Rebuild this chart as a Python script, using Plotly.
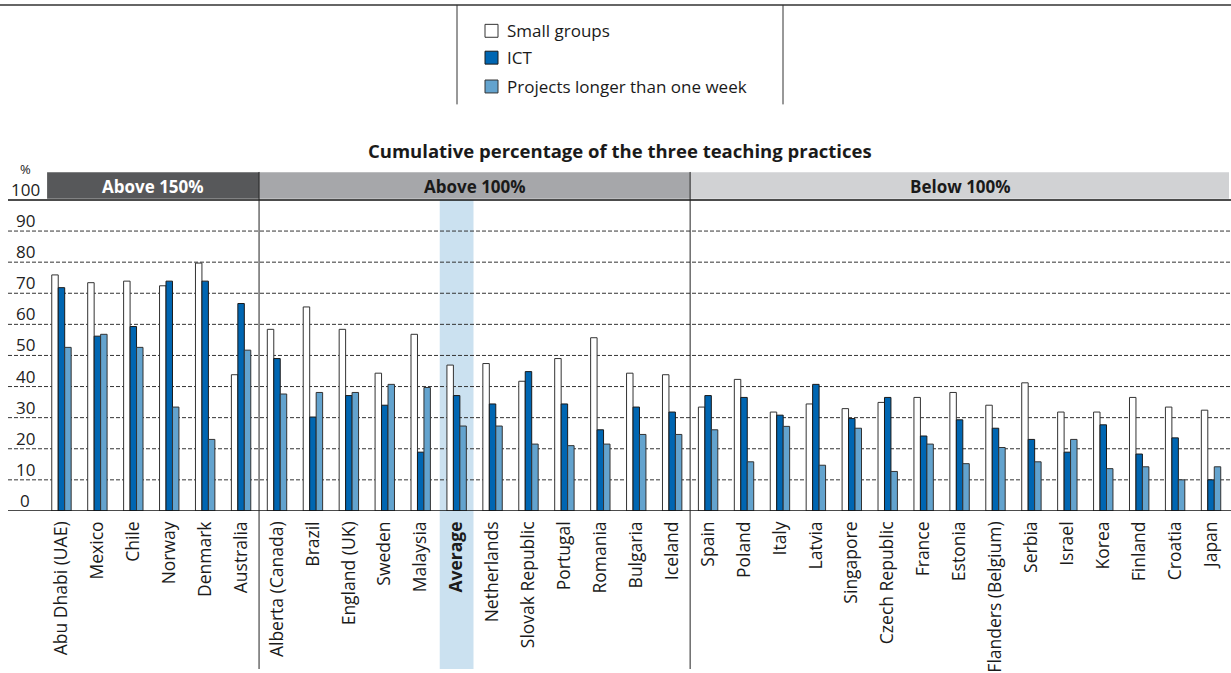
import plotly.graph_objects as go

W, H = 1231, 673

countries = [
    "Abu Dhabi (UAE)", "Mexico", "Chile", "Norway", "Denmark", "Australia",
    "Alberta (Canada)", "Brazil", "England (UK)", "Sweden", "Malaysia", "Average",
    "Netherlands", "Slovak Republic", "Portugal", "Romania", "Bulgaria", "Iceland",
    "Spain", "Poland", "Italy", "Latvia", "Singapore", "Czech Republic", "France",
    "Estonia", "Flanders (Belgium)", "Serbia", "Israel", "Korea", "Finland",
    "Croatia", "Japan",
]

small_groups = [
    75.9, 73.4, 73.9, 72.4, 79.7, 43.8,
    58.4, 65.6, 58.4, 44.3, 56.8, 46.9,
    47.4, 41.7, 49.0, 55.7, 44.3, 43.8,
    33.4, 42.3, 31.8, 34.4, 32.9, 34.9, 36.5,
    38.1, 34.0, 41.2, 31.8, 31.8, 36.5,
    33.4, 32.4,
]

ict = [
    71.8, 56.2, 59.3, 73.9, 73.9, 66.7,
    49.0, 30.2, 37.1, 34.0, 18.9, 37.1,
    34.4, 44.8, 34.4, 26.1, 33.4, 31.8,
    37.1, 36.5, 30.8, 40.7, 29.7, 36.5, 24.1,
    29.3, 26.6, 23.0, 18.9, 27.7, 18.3,
    23.5, 10.0,
]

projects = [
    52.6, 56.8, 52.6, 33.4, 23.0, 51.7,
    37.6, 38.1, 38.1, 40.7, 39.7, 27.3,
    27.3, 21.5, 21.0, 21.5, 24.6, 24.6,
    26.1, 15.8, 27.2, 14.7, 26.6, 12.7, 21.5,
    15.2, 20.4, 15.8, 23.0, 13.6, 14.2,
    10.0, 14.2,
]

# groups of countries by cumulative percentage
groups = [
    ("Above 150%", 0, 5, "#57585a", "white"),
    ("Above 100%", 6, 17, "#a6a7aa", "#1a1a1a"),
    ("Below 100%", 18, 32, "#d1d2d4", "#1a1a1a"),
]

y_ticks = [0, 10, 20, 30, 40, 50, 60, 70, 80, 90, 100]

series = [
    ("Small groups", small_groups, "white", "#333333"),
    ("ICT", ict, "#0066b2", "#1a1a1a"),
    ("Projects longer than one week", projects, "#63a3ce", "#333333"),
]

FONT = "Open Sans"
DARK = "#1a1a1a"


def px(x):
    return x / W


def py(y):
    return 1 - y / H


fig = go.Figure()
for name, vals, fill, edge in series:
    fig.add_trace(go.Bar(
        name=name, x=countries, y=vals,
        marker=dict(color=fill, line=dict(color=edge, width=1)),
        showlegend=False,
    ))

tick_text = ["<b>%s</b>" % c if c == "Average" else c for c in countries]
avg_idx = countries.index("Average")

shapes = []
annotations = []

# highlighted average column
shapes.append(dict(type="rect", layer="below", xref="x", yref="paper",
                   x0=avg_idx - 0.47, x1=avg_idx + 0.47, y0=0, y1=py(201),
                   fillcolor="#cbe1f0", line=dict(width=0)))

# dashed gridlines
for v in y_ticks[1:-1]:
    shapes.append(dict(type="line", layer="below", xref="paper", yref="y",
                       x0=px(8), x1=1, y0=v, y1=v,
                       line=dict(color="#333333", width=1, dash="4px,2px")))

# solid lines at 0 and 100
for v in (0, 100):
    shapes.append(dict(type="line", xref="paper", yref="y",
                       x0=px(8), x1=1, y0=v, y1=v,
                       line=dict(color="#111111", width=1.5)))

# group header bands
for label, i0, i1, fill, tcol in groups:
    x0 = i0 - 0.4 if i0 == 0 else i0 - 0.5
    x1 = i1 + 0.56 if i1 == len(countries) - 1 else i1 + 0.5
    shapes.append(dict(type="rect", xref="x", yref="y", x0=x0, x1=x1,
                       y0=100.4, y1=108.9, fillcolor=fill, line=dict(width=0)))
    annotations.append(dict(xref="x", yref="y", x=(x0 + x1) / 2, y=104.2,
                            text="<b>%s</b>" % label, showarrow=False,
                            font=dict(family=FONT, size=17, color=tcol)))

# separators between groups
for label, i0, i1, fill, tcol in groups[1:]:
    shapes.append(dict(type="line", xref="x", yref="paper",
                       x0=i0 - 0.5, x1=i0 - 0.5, y0=0, y1=py(173),
                       line=dict(color="#222222", width=1)))

# y-axis labels sitting above each line
for v in y_ticks:
    annotations.append(dict(xref="paper", yref="y", x=px(25), y=v,
                            xanchor="center", yanchor="bottom", yshift=-3,
                            text=str(v), showarrow=False,
                            font=dict(family=FONT, size=17, color="#222222")))
annotations.append(dict(xref="paper", yref="paper", x=px(25), y=py(170),
                        xanchor="center", yanchor="middle", text="%",
                        showarrow=False,
                        font=dict(family=FONT, size=13, color="#222222")))

# title
annotations.append(dict(xref="paper", yref="paper", x=px(620), y=py(151),
                        xanchor="center", yanchor="middle",
                        text="<b>Cumulative percentage of the three teaching practices</b>",
                        showarrow=False,
                        font=dict(family=FONT, size=18.5, color=DARK)))

# legend frame
shapes.append(dict(type="line", xref="paper", yref="paper", x0=0, x1=1,
                   y0=py(5), y1=py(5), line=dict(color="#333333", width=1.5)))
for xv in (457, 783):
    shapes.append(dict(type="line", xref="paper", yref="paper", x0=px(xv), x1=px(xv),
                       y0=py(5), y1=py(105), line=dict(color="#333333", width=1)))

legend_rows = [31, 58, 87]
for (name, vals, fill, edge), yc in zip(series, legend_rows):
    shapes.append(dict(type="rect", xref="paper", yref="paper",
                       x0=px(485), x1=px(498), y0=py(yc + 6.5), y1=py(yc - 6.5),
                       fillcolor=fill, line=dict(color=edge, width=1)))
    annotations.append(dict(xref="paper", yref="paper", x=px(505), y=py(yc),
                            xanchor="left", yanchor="middle", text=name,
                            showarrow=False,
                            font=dict(family=FONT, size=17, color=DARK)))

fig.update_layout(
    width=W, height=H,
    margin=dict(l=0, r=0, t=0, b=0),
    paper_bgcolor="white", plot_bgcolor="rgba(0,0,0,0)",
    barmode="group", bargap=0.46, bargroupgap=0,
    shapes=shapes, annotations=annotations,
    font=dict(family=FONT, color=DARK),
    xaxis=dict(domain=[px(43.5), px(1229)], range=[-0.5, len(countries) - 0.5],
               tickmode="array", tickvals=countries, ticktext=tick_text,
               tickangle=-90, tickfont=dict(family=FONT, size=17.5, color=DARK),
               ticklabelstandoff=6,
               showgrid=False, showline=False, ticks="", zeroline=False),
    yaxis=dict(domain=[py(514), py(173)], range=[0, 109],
               showticklabels=False, showgrid=False, zeroline=False,
               showline=False, ticks=""),
)

fig.write_html("out.html")
